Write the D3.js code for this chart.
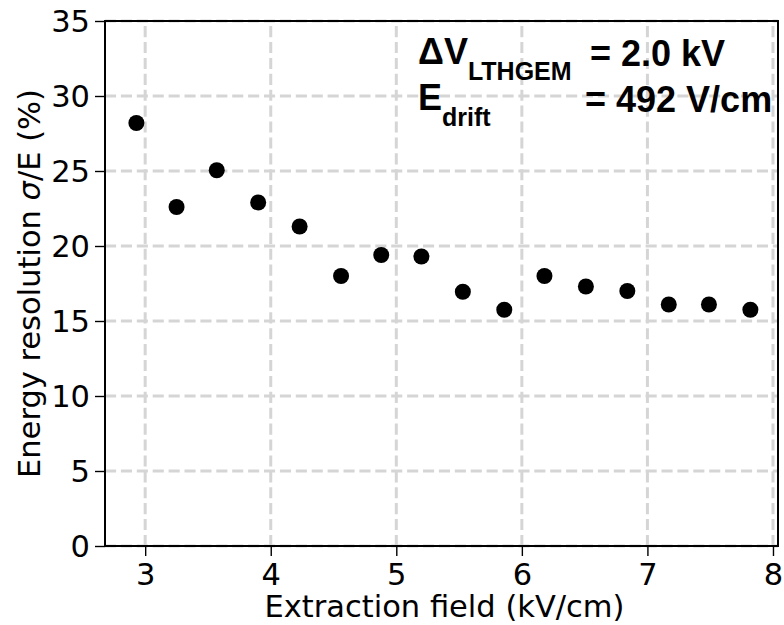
<!DOCTYPE html>
<html>
<head>
<meta charset="utf-8">
<script src="https://cdn.jsdelivr.net/npm/d3@7"></script>
<style>
  html, body { margin: 0; padding: 0; background: #fff; }
  svg { display: block; }
</style>
</head>
<body>
<svg id="chart" width="784" height="625"></svg>
<script>
// Extraction field (kV/cm) and measured energy resolution sigma/E (%)
const extractionField = [2.93, 3.25, 3.57, 3.90, 4.23, 4.56, 4.88, 5.20, 5.53, 5.86, 6.18, 6.51, 6.84, 7.17, 7.49, 7.82];
const resolution = [28.2, 22.6, 25.05, 22.9, 21.3, 18.0, 19.4, 19.3, 16.95, 15.75, 18.0, 17.3, 17.0, 16.1, 16.1, 15.75];
const xTicks = [3, 4, 5, 6, 7, 8];
const yTicks = [0, 5, 10, 15, 20, 25, 30, 35];

const svg = d3.select("#chart");
const plot = { left: 105, right: 778, top: 21, bottom: 546 };

const x = d3.scaleLinear().domain([2.68, 8.04]).range([plot.left, plot.right]);
const y = d3.scaleLinear().domain([0, 35]).range([plot.bottom, plot.top]);

const tickFont = "'DejaVu Sans', sans-serif";
const fs = 30.5;

// dashed grid
const grid = svg.append("g").attr("stroke", "#d5d5d5").attr("stroke-width", 3)
  .attr("stroke-dasharray", "11.1,4.8").attr("fill", "none");
grid.selectAll("line.v").data(xTicks).join("line").attr("class", "v")
  .attr("x1", d => x(d)).attr("x2", d => x(d))
  .attr("y1", plot.bottom).attr("y2", plot.top);
grid.selectAll("line.h").data(yTicks).join("line").attr("class", "h")
  .attr("x1", plot.left).attr("x2", plot.right)
  .attr("y1", d => y(d)).attr("y2", d => y(d));

// annotation text
const ann = svg.append("g")
  .attr("font-family", "'Liberation Sans', Arial, sans-serif")
  .attr("font-weight", "bold").attr("fill", "#000");
const big = 36, sub = 25;
const t1 = ann.append("text").attr("x", 418).attr("y", 64).attr("font-size", big);
t1.append("tspan").text("ΔV");
t1.append("tspan").attr("font-size", sub).attr("dy", 16).text("LTHGEM");
ann.append("text").attr("x", 590).attr("y", 66).attr("font-size", big).text("= 2.0 kV");
const t2 = ann.append("text").attr("x", 418).attr("y", 110).attr("font-size", big);
t2.append("tspan").text("E");
t2.append("tspan").attr("font-size", sub).attr("dy", 16).text("drift");
ann.append("text").attr("x", 585).attr("y", 112).attr("font-size", big).text("= 492 V/cm");

// data points
svg.append("g").selectAll("circle").data(extractionField).join("circle")
  .attr("cx", d => x(d))
  .attr("cy", (d, i) => y(resolution[i]))
  .attr("r", 8).attr("fill", "#000");

// axes
const xAxis = d3.axisBottom(x).tickValues(xTicks).tickSize(10).tickPadding(6).tickFormat(d3.format("d"));
const yAxis = d3.axisLeft(y).tickValues(yTicks).tickSize(10).tickPadding(5).tickFormat(d3.format("d"));

const gx = svg.append("g").attr("transform", `translate(0,${plot.bottom})`).call(xAxis);
const gy = svg.append("g").attr("transform", `translate(${plot.left},0)`).call(yAxis);
[gx, gy].forEach(g => {
  g.select(".domain").remove();
  g.selectAll(".tick line").attr("stroke", "#000").attr("stroke-width", 1.4);
  g.selectAll(".tick text").attr("font-family", tickFont).attr("font-size", fs).attr("fill", "#000");
});
gx.selectAll(".tick text").attr("dy", "0.75em");
gy.selectAll(".tick text").attr("dy", "0.36em");

// frame
svg.append("rect")
  .attr("x", plot.left).attr("y", plot.top)
  .attr("width", plot.right - plot.left).attr("height", plot.bottom - plot.top)
  .attr("fill", "none").attr("stroke", "#000").attr("stroke-width", 2);

// axis titles
svg.append("text")
  .attr("x", (plot.left + plot.right) / 2 + 3).attr("y", 617)
  .attr("text-anchor", "middle")
  .attr("font-family", tickFont).attr("font-size", fs).attr("fill", "#000")
  .text("Extraction field (kV/cm)");

const yl = svg.append("text")
  .attr("transform", `translate(40,${(plot.top + plot.bottom) / 2}) rotate(-90)`)
  .attr("text-anchor", "middle")
  .attr("font-family", tickFont).attr("font-size", fs).attr("fill", "#000");
yl.append("tspan").text("Energy resolution ");
yl.append("tspan").attr("font-style", "italic").text("σ");
yl.append("tspan").text("/E (%)");
</script>
</body>
</html>
